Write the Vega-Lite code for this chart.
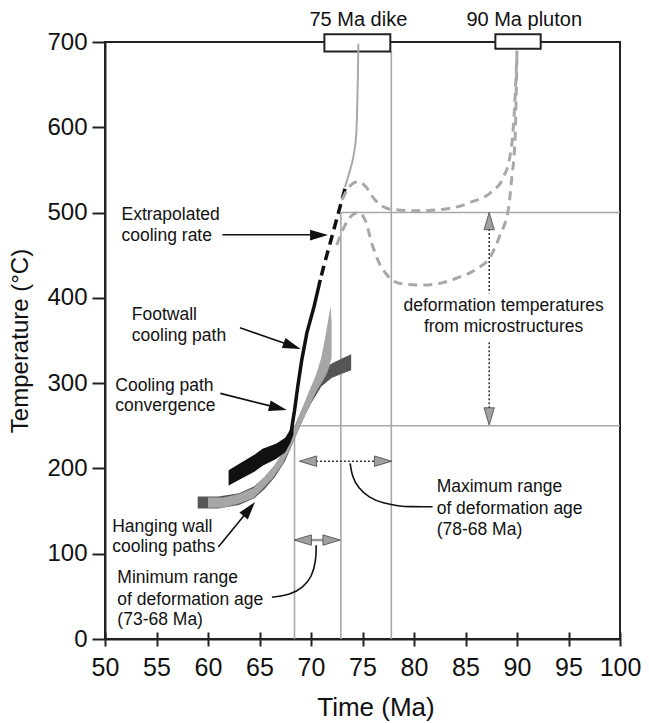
{
"$schema": "https://vega.github.io/schema/vega-lite/v6.json",
"width": 515, "height": 597,
"autosize": {"type": "none"},
"padding": {"left": 105, "top": 42, "right": 29, "bottom": 84},
"background": "white",
"config": {
  "font": "Liberation Sans",
  "view": {"stroke": "#222", "strokeWidth": 2},
  "axis": {"labelFont": "Liberation Sans", "titleFont": "Liberation Sans", "labelColor": "#111", "titleColor": "#111", "titleFontWeight": "normal", "domainColor": "#222", "tickColor": "#222", "domainWidth": 2, "tickWidth": 2, "grid": false, "labelOverlap": false, "labelFlush": false}
},
"datasets": {
  "ref": [
    {"x": 68.4, "x2": 68.4, "y": 0, "y2": 250},
    {"x": 72.9, "x2": 72.9, "y": 0, "y2": 500},
    {"x": 77.8, "x2": 77.8, "y": 0, "y2": 689},
    {"x": 68.4, "x2": 100, "y": 250, "y2": 250},
    {"x": 72.9, "x2": 100, "y": 500, "y2": 500}
  ],
  "bands": [
    {"band": "fw", "x": 62.0, "lo": 180, "hi": 198},
    {"band": "fw", "x": 63.4, "lo": 189, "hi": 208},
    {"band": "fw", "x": 64.5, "lo": 196, "hi": 216},
    {"band": "fw", "x": 65.3, "lo": 203, "hi": 223},
    {"band": "fw", "x": 66.6, "lo": 211, "hi": 229},
    {"band": "fw", "x": 67.5, "lo": 219, "hi": 236},
    {"band": "fw", "x": 68.0, "lo": 230, "hi": 246},
    {"band": "fw", "x": 68.3, "lo": 240, "hi": 254},
    {"band": "hw1", "x": 59.0, "lo": 153, "hi": 167},
    {"band": "hw1", "x": 61.0, "lo": 153, "hi": 167},
    {"band": "hw1", "x": 63.0, "lo": 157, "hi": 171},
    {"band": "hw1", "x": 64.5, "lo": 165, "hi": 179},
    {"band": "hw1", "x": 65.5, "lo": 176, "hi": 190},
    {"band": "hw1", "x": 66.5, "lo": 190, "hi": 204},
    {"band": "hw1", "x": 67.5, "lo": 209, "hi": 223},
    {"band": "hw1", "x": 68.5, "lo": 237, "hi": 252},
    {"band": "hw1", "x": 69.3, "lo": 259, "hi": 274},
    {"band": "hw1", "x": 70.0, "lo": 276, "hi": 292},
    {"band": "hw1", "x": 71.0, "lo": 296, "hi": 314},
    {"band": "hw1", "x": 72.0, "lo": 306, "hi": 323},
    {"band": "hw1", "x": 73.0, "lo": 311, "hi": 329},
    {"band": "hw1", "x": 73.9, "lo": 315, "hi": 334},
    {"band": "hw3", "x": 66.0, "lo": 184, "hi": 194},
    {"band": "hw3", "x": 67.0, "lo": 200, "hi": 211},
    {"band": "hw3", "x": 68.0, "lo": 224, "hi": 236},
    {"band": "hw3", "x": 69.0, "lo": 252, "hi": 265},
    {"band": "hw3", "x": 70.0, "lo": 281, "hi": 295},
    {"band": "hw3", "x": 71.0, "lo": 301, "hi": 316},
    {"band": "hw3", "x": 71.6, "lo": 312, "hi": 325},
    {"band": "hw2", "x": 60.0, "lo": 154, "hi": 166},
    {"band": "hw2", "x": 61.5, "lo": 154, "hi": 166},
    {"band": "hw2", "x": 63.0, "lo": 159, "hi": 170},
    {"band": "hw2", "x": 64.4, "lo": 165, "hi": 177},
    {"band": "hw2", "x": 65.3, "lo": 176, "hi": 188},
    {"band": "hw2", "x": 66.3, "lo": 189, "hi": 201},
    {"band": "hw2", "x": 67.3, "lo": 207, "hi": 219},
    {"band": "hw2", "x": 68.3, "lo": 232, "hi": 246},
    {"band": "hw2", "x": 69.0, "lo": 251, "hi": 266},
    {"band": "hw2", "x": 69.8, "lo": 272, "hi": 290},
    {"band": "hw2", "x": 70.5, "lo": 290, "hi": 310},
    {"band": "hw2", "x": 71.0, "lo": 300, "hi": 330},
    {"band": "hw2", "x": 71.4, "lo": 308, "hi": 355},
    {"band": "hw2", "x": 71.75, "lo": 318, "hi": 380},
    {"band": "hw2", "x": 71.9, "lo": 325, "hi": 390},
    {"band": "hw2", "x": 72.0, "lo": 330, "hi": 372}
  ],
  "curves": [
    {"g": "fwline", "i": 1, "x": 70.9, "y": 421},
    {"g": "fwline", "i": 2, "x": 70.3, "y": 390},
    {"g": "fwline", "i": 3, "x": 69.6, "y": 359},
    {"g": "fwline", "i": 4, "x": 69.1, "y": 327},
    {"g": "fwline", "i": 5, "x": 68.7, "y": 295},
    {"g": "fwline", "i": 6, "x": 68.4, "y": 268},
    {"g": "fwline", "i": 7, "x": 68.1, "y": 245},
    {"g": "fwline", "i": 8, "x": 67.9, "y": 235},
    {"g": "extrap", "i": 1, "x": 73.3, "y": 528},
    {"g": "extrap", "i": 2, "x": 72.6, "y": 497},
    {"g": "extrap", "i": 3, "x": 71.9, "y": 466},
    {"g": "extrap", "i": 4, "x": 71.3, "y": 440},
    {"g": "extrap", "i": 5, "x": 70.9, "y": 421},
    {"g": "dike", "i": 1, "x": 74.6, "y": 698},
    {"g": "dike", "i": 2, "x": 74.55, "y": 660},
    {"g": "dike", "i": 3, "x": 74.5, "y": 632},
    {"g": "dike", "i": 4, "x": 74.4, "y": 593},
    {"g": "dike", "i": 5, "x": 74.1, "y": 565},
    {"g": "dike", "i": 6, "x": 73.7, "y": 546},
    {"g": "dike", "i": 7, "x": 73.3, "y": 530},
    {"g": "pl1", "i": 1, "x": 73.0, "y": 515},
    {"g": "pl1", "i": 2, "x": 73.7, "y": 530},
    {"g": "pl1", "i": 3, "x": 74.5, "y": 536},
    {"g": "pl1", "i": 4, "x": 75.2, "y": 532},
    {"g": "pl1", "i": 5, "x": 76.2, "y": 515},
    {"g": "pl1", "i": 6, "x": 77.7, "y": 504},
    {"g": "pl1", "i": 7, "x": 80.3, "y": 502},
    {"g": "pl1", "i": 8, "x": 83.5, "y": 505},
    {"g": "pl1", "i": 9, "x": 85.7, "y": 513},
    {"g": "pl1", "i": 10, "x": 87.5, "y": 524},
    {"g": "pl1", "i": 11, "x": 88.7, "y": 542},
    {"g": "pl1", "i": 12, "x": 89.3, "y": 565},
    {"g": "pl1", "i": 13, "x": 89.6, "y": 593},
    {"g": "pl1", "i": 14, "x": 89.8, "y": 632},
    {"g": "pl1", "i": 15, "x": 90.0, "y": 690},
    {"g": "pl2", "i": 1, "x": 72.5, "y": 462},
    {"g": "pl2", "i": 2, "x": 73.3, "y": 485},
    {"g": "pl2", "i": 3, "x": 74.0, "y": 497},
    {"g": "pl2", "i": 4, "x": 74.6, "y": 500},
    {"g": "pl2", "i": 5, "x": 75.3, "y": 490},
    {"g": "pl2", "i": 6, "x": 75.9, "y": 464},
    {"g": "pl2", "i": 7, "x": 76.5, "y": 444},
    {"g": "pl2", "i": 8, "x": 77.3, "y": 428},
    {"g": "pl2", "i": 9, "x": 78.6, "y": 417},
    {"g": "pl2", "i": 10, "x": 80.6, "y": 415},
    {"g": "pl2", "i": 11, "x": 82.5, "y": 417},
    {"g": "pl2", "i": 12, "x": 84.1, "y": 423},
    {"g": "pl2", "i": 13, "x": 86.1, "y": 434},
    {"g": "pl2", "i": 14, "x": 87.4, "y": 448},
    {"g": "pl2", "i": 15, "x": 88.3, "y": 472},
    {"g": "pl2", "i": 16, "x": 89.2, "y": 507},
    {"g": "pl2", "i": 17, "x": 89.5, "y": 542},
    {"g": "pl2", "i": 18, "x": 89.7, "y": 565},
    {"g": "pl2", "i": 19, "x": 89.85, "y": 600},
    {"g": "pl2", "i": 20, "x": 90.0, "y": 690},
    {"g": "lmax", "i": 1, "x": 73.8, "y": 206},
    {"g": "lmax", "i": 2, "x": 74.0, "y": 190},
    {"g": "lmax", "i": 3, "x": 74.6, "y": 177},
    {"g": "lmax", "i": 4, "x": 75.6, "y": 166},
    {"g": "lmax", "i": 5, "x": 77.0, "y": 159},
    {"g": "lmax", "i": 6, "x": 78.5, "y": 156},
    {"g": "lmax", "i": 7, "x": 79.6, "y": 155},
    {"g": "lmax", "i": 8, "x": 81.8, "y": 155},
    {"g": "lmin", "i": 1, "x": 70.5, "y": 110},
    {"g": "lmin", "i": 2, "x": 70.5, "y": 93},
    {"g": "lmin", "i": 3, "x": 70.1, "y": 73},
    {"g": "lmin", "i": 4, "x": 69.2, "y": 60},
    {"g": "lmin", "i": 5, "x": 68.0, "y": 52},
    {"g": "lmin", "i": 6, "x": 66.2, "y": 49}
  ],
  "boxes": [
    {"name": "dike", "x": 71.3, "x2": 77.7, "y": 689, "y2": 709},
    {"name": "pluton", "x": 87.9, "x2": 92.3, "y": 692, "y2": 709}
  ],
  "segs": [
    {"kind": "arrow", "x": 61.4, "x2": 70.8, "y": 474, "y2": 474},
    {"kind": "arrow", "x": 63.1, "x2": 68.2, "y": 365, "y2": 343.5},
    {"kind": "arrow", "x": 61.2, "x2": 66.8, "y": 288, "y2": 271},
    {"kind": "arrow", "x": 61.0, "x2": 64.0, "y": 108, "y2": 152},
    {"kind": "dotted", "x": 69.7, "x2": 77.0, "y": 208.5, "y2": 208.5},
    {"kind": "dotted", "x": 87.3, "x2": 87.3, "y": 490, "y2": 405},
    {"kind": "dotted", "x": 87.3, "x2": 87.3, "y": 348, "y2": 261},
    {"kind": "range", "x": 69.2, "x2": 72.0, "y": 116, "y2": 116}
  ],
  "heads": [
    {"kind": "black", "dir": "e", "x": 70.78, "y": 473.6},
    {"kind": "black", "dir": "fw", "x": 68.17, "y": 343.5},
    {"kind": "black", "dir": "conv", "x": 66.8, "y": 271},
    {"kind": "black", "dir": "hw", "x": 64.01, "y": 152.4},
    {"kind": "gray", "dir": "w", "x": 69.7, "y": 208.5},
    {"kind": "gray", "dir": "e", "x": 77.0, "y": 208.5},
    {"kind": "gray", "dir": "w", "x": 69.2, "y": 116},
    {"kind": "gray", "dir": "e", "x": 72.0, "y": 116},
    {"kind": "gray", "dir": "n", "x": 87.3, "y": 490},
    {"kind": "gray", "dir": "s", "x": 87.3, "y": 261}
  ],
  "notes": [
    {"align": "left", "x": 51.6, "y": 497, "t": "Extrapolated"},
    {"align": "left", "x": 51.6, "y": 473, "t": "cooling rate"},
    {"align": "left", "x": 52.6, "y": 380, "t": "Footwall"},
    {"align": "left", "x": 52.6, "y": 355, "t": "cooling path"},
    {"align": "left", "x": 51.0, "y": 297, "t": "Cooling path"},
    {"align": "left", "x": 51.0, "y": 273, "t": "convergence"},
    {"align": "left", "x": 50.7, "y": 131, "t": "Hanging wall"},
    {"align": "left", "x": 50.7, "y": 108, "t": "cooling paths"},
    {"align": "left", "x": 51.2, "y": 71, "t": "Minimum range"},
    {"align": "left", "x": 51.2, "y": 46, "t": "of deformation age"},
    {"align": "left", "x": 51.2, "y": 22, "t": "(73-68 Ma)"},
    {"align": "left", "x": 82.2, "y": 178, "t": "Maximum range"},
    {"align": "left", "x": 82.2, "y": 153, "t": "of deformation age"},
    {"align": "left", "x": 82.2, "y": 128, "t": "(78-68 Ma)"},
    {"align": "center", "x": 88.7, "y": 391, "t": "deformation temperatures"},
    {"align": "center", "x": 88.7, "y": 366, "t": "from microstructures"}
  ],
  "tops": [
    {"x": 74.6, "y": 726, "t": "75 Ma dike"},
    {"x": 90.7, "y": 726, "t": "90 Ma pluton"}
  ]
},
"layer": [
  {
    "data": {"name": "ref"},
    "mark": {"type": "rule", "color": "#a8a8a8", "strokeWidth": 1.6},
    "encoding": {
      "x": {"field": "x", "type": "quantitative", "scale": {"domain": [50, 100], "nice": false}, "axis": {"orient": "bottom", "title": null, "labels": false, "domain": false, "tickSize": -7, "values": [50, 55, 60, 65, 70, 75, 80, 85, 90, 95, 100]}},
      "x2": {"field": "x2"},
      "y": {"field": "y", "type": "quantitative", "scale": {"domain": [0, 700], "nice": false, "zero": false}, "title": "Temperature (°C)"},
      "y2": {"field": "y2"}
    }
  },
  {
    "layer": [
      {
        "data": {"name": "bands"},
        "transform": [{"filter": "datum.band === 'hw1'"}],
        "mark": {"type": "area", "color": "#555555"},
        "encoding": {
          "x": {"field": "x", "type": "quantitative", "scale": {"domain": [50, 100], "nice": false}, "title": "Time (Ma)", "axis": {"orient": "bottom", "values": [50, 55, 60, 65, 70, 75, 80, 85, 90, 95, 100], "tickSize": 7, "labelFontSize": 25, "labelPadding": 9, "titleFontSize": 26, "titlePadding": 14, "titleX": 270.5}},
          "y": {"field": "lo", "type": "quantitative", "stack": null, "scale": {"domain": [0, 700], "nice": false, "zero": false}, "title": "Temperature (°C)", "axis": {"values": [0, 100, 200, 300, 400, 500, 600, 700], "tickSize": 13, "labelFontSize": 24, "labelPadding": 5, "titleFontSize": 24, "titlePadding": 14}},
          "y2": {"field": "hi"}
        }
      },
      {
        "data": {"name": "bands"},
        "transform": [{"filter": "datum.band === 'hw3'"}],
        "mark": {"type": "area", "color": "#7d7d7d"},
        "encoding": {
          "x": {"field": "x", "type": "quantitative", "scale": {"domain": [50, 100], "nice": false}, "title": "Time (Ma)"},
          "y": {"field": "lo", "type": "quantitative", "stack": null, "scale": {"domain": [0, 700], "nice": false, "zero": false}, "title": "Temperature (°C)"},
          "y2": {"field": "hi"}
        }
      },
      {
        "data": {"name": "bands"},
        "transform": [{"filter": "datum.band === 'hw2'"}],
        "mark": {"type": "area", "color": "#a6a6a6"},
        "encoding": {
          "x": {"field": "x", "type": "quantitative", "scale": {"domain": [50, 100], "nice": false}, "title": "Time (Ma)"},
          "y": {"field": "lo", "type": "quantitative", "stack": null, "scale": {"domain": [0, 700], "nice": false, "zero": false}, "title": "Temperature (°C)"},
          "y2": {"field": "hi"}
        }
      },
      {
        "data": {"name": "bands"},
        "transform": [{"filter": "datum.band === 'fw'"}],
        "mark": {"type": "area", "color": "#111111"},
        "encoding": {
          "x": {"field": "x", "type": "quantitative", "scale": {"domain": [50, 100], "nice": false}, "title": "Time (Ma)"},
          "y": {"field": "lo", "type": "quantitative", "stack": null, "scale": {"domain": [0, 700], "nice": false, "zero": false}, "title": "Temperature (°C)"},
          "y2": {"field": "hi"}
        }
      },
      {
        "data": {"name": "curves"},
        "transform": [{"filter": "datum.g === 'fwline'"}],
        "mark": {"type": "line", "color": "#111111", "strokeWidth": 3.5},
        "encoding": {
          "x": {"field": "x", "type": "quantitative", "scale": {"domain": [50, 100], "nice": false}, "title": "Time (Ma)"},
          "y": {"field": "y", "type": "quantitative", "scale": {"domain": [0, 700], "nice": false, "zero": false}, "title": "Temperature (°C)"},
          "order": {"field": "i", "type": "quantitative"}
        }
      },
      {
        "data": {"name": "curves"},
        "transform": [{"filter": "datum.g === 'extrap'"}],
        "mark": {"type": "line", "color": "#111111", "strokeWidth": 3.5, "strokeDash": [10, 6]},
        "encoding": {
          "x": {"field": "x", "type": "quantitative", "scale": {"domain": [50, 100], "nice": false}, "title": "Time (Ma)"},
          "y": {"field": "y", "type": "quantitative", "scale": {"domain": [0, 700], "nice": false, "zero": false}, "title": "Temperature (°C)"},
          "order": {"field": "i", "type": "quantitative"}
        }
      },
      {
        "data": {"name": "boxes"},
        "mark": {"type": "rect", "fill": "white", "stroke": "#222", "strokeWidth": 2},
        "encoding": {
          "x": {"field": "x", "type": "quantitative", "scale": {"domain": [50, 100], "nice": false}, "title": "Time (Ma)"},
          "x2": {"field": "x2"},
          "y": {"field": "y", "type": "quantitative", "scale": {"domain": [0, 700], "nice": false, "zero": false}, "title": "Temperature (°C)"},
          "y2": {"field": "y2"}
        }
      },
      {
        "data": {"name": "curves"},
        "transform": [{"filter": "datum.g === 'dike'"}],
        "mark": {"type": "line", "color": "#a8a8a8", "strokeWidth": 2, "interpolate": "monotone"},
        "encoding": {
          "x": {"field": "x", "type": "quantitative", "scale": {"domain": [50, 100], "nice": false}, "title": "Time (Ma)"},
          "y": {"field": "y", "type": "quantitative", "scale": {"domain": [0, 700], "nice": false, "zero": false}, "title": "Temperature (°C)"},
          "order": {"field": "i", "type": "quantitative"}
        }
      },
      {
        "data": {"name": "curves"},
        "transform": [{"filter": "datum.g === 'pl1' || datum.g === 'pl2'"}],
        "mark": {"type": "line", "color": "#a8a8a8", "strokeWidth": 3, "strokeDash": [9, 6], "interpolate": "monotone"},
        "encoding": {
          "x": {"field": "x", "type": "quantitative", "scale": {"domain": [50, 100], "nice": false}, "title": "Time (Ma)"},
          "y": {"field": "y", "type": "quantitative", "scale": {"domain": [0, 700], "nice": false, "zero": false}, "title": "Temperature (°C)"},
          "detail": {"field": "g"},
          "order": {"field": "i", "type": "quantitative"}
        }
      },
      {
        "data": {"name": "segs"},
        "transform": [{"filter": "datum.kind === 'arrow'"}],
        "mark": {"type": "rule", "color": "#111", "strokeWidth": 1.6},
        "encoding": {
          "x": {"field": "x", "type": "quantitative", "scale": {"domain": [50, 100], "nice": false}, "title": "Time (Ma)"},
          "x2": {"field": "x2"},
          "y": {"field": "y", "type": "quantitative", "scale": {"domain": [0, 700], "nice": false, "zero": false}, "title": "Temperature (°C)"},
          "y2": {"field": "y2"}
        }
      },
      {
        "data": {"name": "segs"},
        "transform": [{"filter": "datum.kind === 'dotted'"}],
        "mark": {"type": "rule", "color": "#333", "strokeWidth": 1.5, "strokeDash": [2, 2]},
        "encoding": {
          "x": {"field": "x", "type": "quantitative", "scale": {"domain": [50, 100], "nice": false}, "title": "Time (Ma)"},
          "x2": {"field": "x2"},
          "y": {"field": "y", "type": "quantitative", "scale": {"domain": [0, 700], "nice": false, "zero": false}, "title": "Temperature (°C)"},
          "y2": {"field": "y2"}
        }
      },
      {
        "data": {"name": "segs"},
        "transform": [{"filter": "datum.kind === 'range'"}],
        "mark": {"type": "rule", "color": "#999", "strokeWidth": 2.5},
        "encoding": {
          "x": {"field": "x", "type": "quantitative", "scale": {"domain": [50, 100], "nice": false}, "title": "Time (Ma)"},
          "x2": {"field": "x2"},
          "y": {"field": "y", "type": "quantitative", "scale": {"domain": [0, 700], "nice": false, "zero": false}, "title": "Temperature (°C)"},
          "y2": {"field": "y2"}
        }
      },
      {
        "data": {"name": "curves"},
        "transform": [{"filter": "datum.g === 'lmax' || datum.g === 'lmin'"}],
        "mark": {"type": "line", "color": "#111", "strokeWidth": 1.6, "interpolate": "basis"},
        "encoding": {
          "x": {"field": "x", "type": "quantitative", "scale": {"domain": [50, 100], "nice": false}, "title": "Time (Ma)"},
          "y": {"field": "y", "type": "quantitative", "scale": {"domain": [0, 700], "nice": false, "zero": false}, "title": "Temperature (°C)"},
          "detail": {"field": "g"},
          "order": {"field": "i", "type": "quantitative"}
        }
      },
      {
        "data": {"name": "heads"},
        "transform": [{"filter": "datum.kind === 'black'"}],
        "mark": {"type": "point", "shape": "M1,0L-1,-0.6L-1,0.6Z", "filled": true, "size": 324, "fill": "#111", "opacity": 1, "strokeWidth": 0},
        "encoding": {
          "x": {"field": "x", "type": "quantitative", "scale": {"domain": [50, 100], "nice": false}, "title": "Time (Ma)"},
          "y": {"field": "y", "type": "quantitative", "scale": {"domain": [0, 700], "nice": false, "zero": false}, "title": "Temperature (°C)"},
          "angle": {"field": "dir", "type": "nominal", "scale": {"type": "ordinal", "domain": ["e", "w", "n", "s", "fw", "conv", "hw"], "range": [0, 180, 270, 90, 19.7, 14, 309.4]}, "legend": null}
        }
      },
      {
        "data": {"name": "heads"},
        "transform": [{"filter": "datum.kind === 'gray'"}],
        "mark": {"type": "point", "shape": "M1,0L-1,-0.6L-1,0.6Z", "filled": true, "size": 300, "fill": "#a0a0a0", "stroke": "#444", "strokeWidth": 0.8, "opacity": 1},
        "encoding": {
          "x": {"field": "x", "type": "quantitative", "scale": {"domain": [50, 100], "nice": false}, "title": "Time (Ma)"},
          "y": {"field": "y", "type": "quantitative", "scale": {"domain": [0, 700], "nice": false, "zero": false}, "title": "Temperature (°C)"},
          "angle": {"field": "dir", "type": "nominal", "scale": {"type": "ordinal", "domain": ["e", "w", "n", "s", "fw", "conv", "hw"], "range": [0, 180, 270, 90, 19.7, 14, 309.4]}, "legend": null}
        }
      },
      {
        "data": {"name": "notes"},
        "transform": [{"filter": "datum.align === 'left'"}],
        "mark": {"type": "text", "align": "left", "baseline": "middle", "fontSize": 17.5, "font": "Liberation Sans", "color": "#111"},
        "encoding": {
          "x": {"field": "x", "type": "quantitative", "scale": {"domain": [50, 100], "nice": false}, "title": "Time (Ma)"},
          "y": {"field": "y", "type": "quantitative", "scale": {"domain": [0, 700], "nice": false, "zero": false}, "title": "Temperature (°C)"},
          "text": {"field": "t"}
        }
      },
      {
        "data": {"name": "notes"},
        "transform": [{"filter": "datum.align === 'center'"}],
        "mark": {"type": "text", "align": "center", "baseline": "middle", "fontSize": 17.5, "font": "Liberation Sans", "color": "#111"},
        "encoding": {
          "x": {"field": "x", "type": "quantitative", "scale": {"domain": [50, 100], "nice": false}, "title": "Time (Ma)"},
          "y": {"field": "y", "type": "quantitative", "scale": {"domain": [0, 700], "nice": false, "zero": false}, "title": "Temperature (°C)"},
          "text": {"field": "t"}
        }
      },
      {
        "data": {"name": "tops"},
        "mark": {"type": "text", "align": "center", "baseline": "middle", "fontSize": 20, "font": "Liberation Sans", "color": "#111"},
        "encoding": {
          "x": {"field": "x", "type": "quantitative", "scale": {"domain": [50, 100], "nice": false}, "title": "Time (Ma)"},
          "y": {"field": "y", "type": "quantitative", "scale": {"domain": [0, 700], "nice": false, "zero": false}, "title": "Temperature (°C)"},
          "text": {"field": "t"}
        }
      }
    ]
  }
],
"resolve": {"axis": {"x": "independent"}}
}
